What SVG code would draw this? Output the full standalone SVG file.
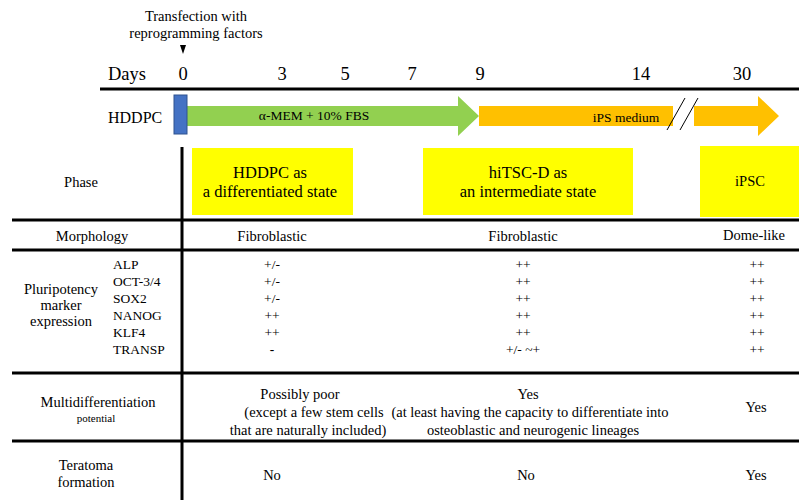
<svg xmlns="http://www.w3.org/2000/svg" width="799" height="500" viewBox="0 0 799 500" font-family="'Liberation Serif', 'Times New Roman', serif">
<style>
text{font-family:'Liberation Serif','Times New Roman',serif;fill:#000}
.m{text-anchor:middle}
.f13{font-size:13.5px}
.f14{font-size:14.5px}
.f17{font-size:16.5px}
.f18{font-size:18.5px}
.rule{stroke:#000;stroke-width:3;fill:none}
.yel{fill:#ffff00}
.org{fill:#ffc000}
</style>
<rect width="799" height="500" fill="#fff"/>
<g id="header">
<text class="m f14" x="196" y="21">Transfection with</text>
<text class="m f14" x="196" y="38">reprogramming factors</text>
<polygon points="180,45 186,45 183,54" fill="#000"/>
<text class="f18" x="108" y="80">Days</text>
<text class="m f18" x="183" y="80">0</text>
<text class="m f18" x="282" y="80">3</text>
<text class="m f18" x="345" y="80">5</text>
<text class="m f18" x="412" y="80">7</text>
<text class="m f18" x="480" y="80">9</text>
<text class="m f18" x="641" y="80">14</text>
<text class="m f18" x="742" y="80">30</text>
</g>
<g id="timeline">
<text x="108" y="123" style="font-size:16px">HDDPC</text>
<polygon points="187,106 458,106 458,96 479,116 458,136 458,126 187,126" fill="#92d050"/>
<rect x="174" y="95" width="13" height="39" fill="#4472c4" stroke="#2f528f" stroke-width="1"/>
<text class="m f13" x="314" y="120">α-MEM + 10% FBS</text>
<rect class="org" x="479" y="106" width="194" height="20"/>
<text class="m f13" x="626" y="122">iPS medium</text>
<polygon class="org" points="694,106 758,106 758,96 779,116 758,136 758,126 694,126"/>
<line x1="667" y1="130" x2="685" y2="98" stroke="#000" stroke-width="1"/>
<line x1="680" y1="130" x2="698" y2="98" stroke="#000" stroke-width="1"/>
</g>
<g id="connectors">
<line class="rule" x1="100" y1="89" x2="799" y2="89"/>
<line class="rule" x1="182" y1="147" x2="182" y2="500"/>
<line class="rule" x1="12" y1="220" x2="799" y2="220"/>
<line class="rule" x1="12" y1="250" x2="799" y2="250"/>
<line class="rule" x1="12" y1="373" x2="799" y2="373"/>
<line class="rule" x1="12" y1="441" x2="799" y2="441"/>
</g>
<g id="phase">
<text class="m f14" x="81" y="187">Phase</text>
<rect class="yel" x="192" y="148" width="161" height="67"/>
<text class="m f17" x="270" y="178">HDDPC as</text>
<text class="m f17" x="270" y="197">a differentiated state</text>
<rect class="yel" x="423" y="148" width="210" height="67"/>
<text class="m f17" x="528" y="178">hiTSC-D as</text>
<text class="m f17" x="528" y="197">an intermediate state</text>
<rect class="yel" x="700" y="146" width="99" height="71"/>
<text class="m f14" x="750" y="186">iPSC</text>
</g>
<g id="morphology">
<text class="m f14" x="92" y="241">Morphology</text>
<text class="m f14" x="272" y="241">Fibroblastic</text>
<text class="m f14" x="523" y="241">Fibroblastic</text>
<text class="m f14" x="754" y="240">Dome-like</text>
</g>
<g id="pluripotency">
<text class="m f14" x="61" y="294">Pluripotency</text>
<text class="m f14" x="61" y="310">marker</text>
<text class="m f14" x="61" y="326">expression</text>
<text class="f13" x="113" y="269">ALP</text>
<text class="f13" x="113" y="286">OCT-3/4</text>
<text class="f13" x="113" y="303">SOX2</text>
<text class="f13" x="113" y="320">NANOG</text>
<text class="f13" x="113" y="337">KLF4</text>
<text class="f13" x="113" y="354">TRANSP</text>
<g class="m f13">
<text x="272" y="269">+/-</text>
<text x="272" y="286">+/-</text>
<text x="272" y="303">+/-</text>
<text x="272" y="320">++</text>
<text x="272" y="337">++</text>
<text x="272" y="354" style="font-weight:bold">-</text>
<text x="523" y="269">++</text>
<text x="523" y="286">++</text>
<text x="523" y="303">++</text>
<text x="523" y="320">++</text>
<text x="523" y="337">++</text>
<text x="523" y="354">+/- ~+</text>
<text x="757" y="269">++</text>
<text x="757" y="286">++</text>
<text x="757" y="303">++</text>
<text x="757" y="320">++</text>
<text x="757" y="337">++</text>
<text x="757" y="354">++</text>
</g>
</g>
<g id="multidiff">
<text class="m f14" x="98" y="407">Multidifferentiation</text>
<text class="m" x="96" y="422" style="font-size:11px">potential</text>
<text class="m f14" x="300" y="399">Possibly poor</text>
<text class="m f14" x="314" y="417">(except a few stem cells</text>
<text class="m f14" x="308" y="435">that are naturally included)</text>
<text class="m f14" x="528" y="399">Yes</text>
<text class="m f14" x="530" y="417">(at least having the capacity to differentiate into</text>
<text class="m f14" x="533" y="435">osteoblastic and neurogenic lineages</text>
<text class="m f14" x="756" y="412">Yes</text>
</g>
<g id="teratoma">
<text class="m f14" x="86" y="470">Teratoma</text>
<text class="m f14" x="86" y="487">formation</text>
<text class="m f14" x="272" y="480">No</text>
<text class="m f14" x="526" y="480">No</text>
<text class="m f14" x="756" y="480">Yes</text>
</g>
</svg>
